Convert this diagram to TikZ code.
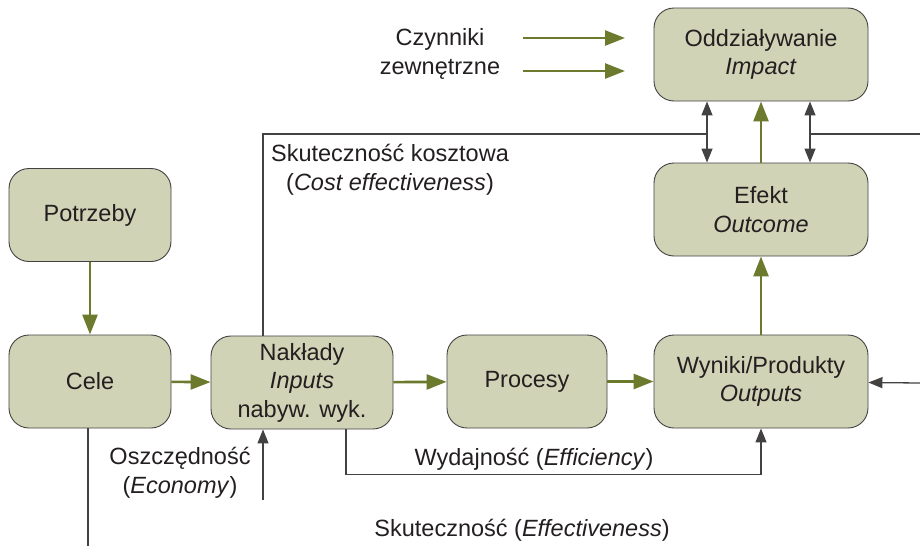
\documentclass[tikz,border=0pt]{standalone}
\usepackage{fontspec}
\setmainfont{Liberation Sans}
\usetikzlibrary{arrows.meta}

\definecolor{boxfill}{HTML}{D0D3B5}
\definecolor{arrowgreen}{HTML}{6B7A2C}
\definecolor{ink}{HTML}{231F20}

\begin{document}
\begin{tikzpicture}[x=1pt, y=-1pt, font=\fontsize{23.5}{28.5}\selectfont, text=ink,
    >={Triangle[length=14pt,width=11pt]},
    box/.style={draw=ink!85, line width=0.9pt, fill=boxfill, rounded corners=20pt,
      minimum height=93pt, inner sep=0pt, align=center},
    flow/.style={draw=arrowgreen, line width=2.6pt, -{Triangle[length=20pt,width=15pt]}},
    link/.style={draw=ink!85, line width=1.3pt}]
    \useasboundingbox (0,0) rectangle (920,546);

    % draw boxes
    \node[box, minimum width=162pt] (potrzeby) at (90,215) {Potrzeby};
    \node[box, minimum width=162pt] (cele) at (90,381.5) {Cele};
    \node[box, minimum width=182pt] (naklady) at (302,382.5) {Nakłady\\\textit{Inputs}\\nabyw. wyk.};
    \node[box, minimum width=160pt] (procesy) at (527,381.5) {Procesy};
    \node[box, minimum width=214pt] (wyniki) at (761,381.5) {Wyniki/Produkty\\\textit{Outputs}};
    \node[box, minimum width=214pt] (efekt) at (761,209.5) {Efekt\\\textit{Outcome}};
    \node[box, minimum width=214pt] (impact) at (761,54.5) {Oddziaływanie\\\textit{Impact}};

    % draw green arrows
    \draw[flow] (potrzeby) -- (cele);
    \draw[flow] (cele) -- (naklady);
    \draw[flow] (naklady) -- (procesy);
    \draw[flow] (procesy) -- (wyniki);
    \draw[flow] (wyniki) -- (efekt);
    \draw[flow] (efekt) -- (impact);

    % external factors
    \node[align=center] (czynniki) at (440,54) {Czynniki\\zewnętrzne};
    \foreach \y/\n in {38/a,71/b} {
      \coordinate (ext\n) at (523,\y);
      \coordinate (imp\n) at (625,\y);
      \draw[flow] (ext\n) -- (imp\n);
    }

    % draw black lines
    \draw[link, <->] ([xshift=-54pt]efekt.north) -- ([xshift=-54pt]impact.south);
    \draw[link, <->] ([xshift=49pt]efekt.north) -- ([xshift=49pt]impact.south);
    \coordinate (costjoin) at (707,134);
    \coordinate (outjoin) at (810,134);
    \coordinate (rightend) at (920,134);
    \coordinate (rightin) at (920,383);
    \draw[link] ([xshift=-39pt]naklady.north) |- (costjoin);
    \draw[link] (outjoin) -- (rightend);
    \draw[link, ->] (rightin) -- (wyniki);

    \coordinate (econ) at (263,500);
    \draw[link, ->] (econ) -- (econ |- naklady.south);
    \draw[link, ->] ([xshift=44pt]naklady.south) -- ++(0,45) -| (wyniki.south);
    \coordinate (effend) at (88,546);
    \draw[link] (cele.south -| effend) -- (effend);

    % draw notes
    \node[align=center] (kosztowa) at (390,170) {Skuteczność kosztowa\\(\textit{Cost effectiveness})};
    \node[align=center] (economy) at (180,473) {Oszczędność\\(\textit{Economy})};
    \node (efficiency) at (534,459) {Wydajność (\textit{Efficiency})};
    \node (effectiveness) at (522,530) {Skuteczność (\textit{Effectiveness})};
\end{tikzpicture}
\end{document}
